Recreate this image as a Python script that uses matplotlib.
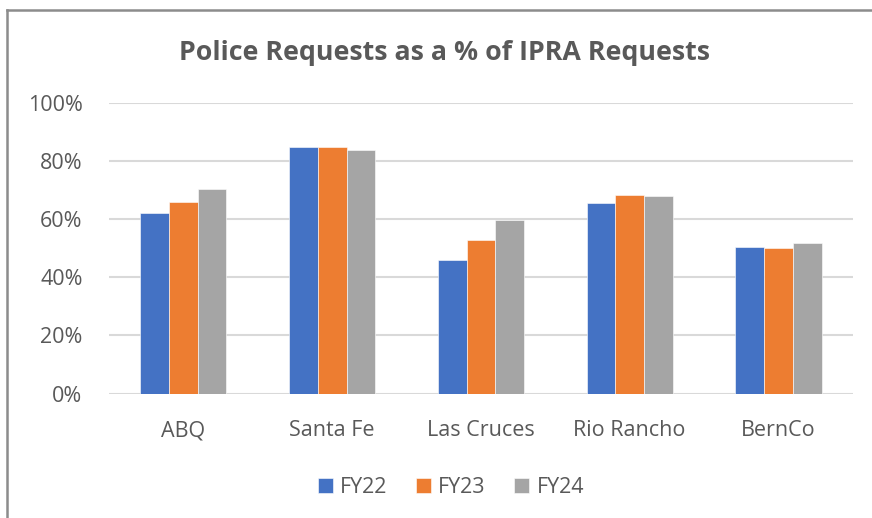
import matplotlib.pyplot as plt
import numpy as np
from matplotlib.lines import Line2D
from matplotlib.ticker import PercentFormatter

plt.rcParams['font.family'] = ['Open Sans', 'DejaVu Sans']

cities = ['ABQ', 'Santa Fe', 'Las Cruces', 'Rio Rancho', 'BernCo']
fy22 = [62.0, 84.7, 45.8, 65.4, 50.4]
fy23 = [65.8, 84.7, 52.8, 68.3, 50.1]
fy24 = [70.2, 83.7, 59.5, 67.9, 51.9]
series = ['FY22', 'FY23', 'FY24']
colors = ['#4472C4', '#ED7D31', '#A5A5A5']
text_color = '#595959'

fig = plt.figure(figsize=(8.72, 5.18), dpi=100)
ax = fig.add_axes([0.125, 0.240, 0.853, 0.562])

x = np.arange(len(cities))
w = 0.193
for i, (vals, name, c) in enumerate(zip([fy22, fy23, fy24], series, colors)):
    ax.bar(x + (i - 1) * w, vals, w, color=c, label=name, zorder=3,
           edgecolor='white', linewidth=0.4)

ax.set_xlim(-0.5, len(cities) - 0.5)
ax.set_ylim(0, 100)
ax.set_yticks(range(0, 101, 20))
ax.yaxis.set_major_formatter(PercentFormatter(decimals=0))
ax.set_xticks(x)
ax.set_xticklabels(cities)
ax.grid(axis='y', color='#D9D9D9', linewidth=1.5, zorder=0)
for s in ax.spines.values():
    s.set_visible(False)
ax.tick_params(length=0, labelsize=15.5, labelcolor=text_color)
ax.tick_params(axis='x', pad=19)
ax.tick_params(axis='y', pad=19)

fig.text(0.51, 0.898, 'Police Requests as a % of IPRA Requests', ha='center', va='center',
         fontsize=19.3, fontweight='bold', color=text_color)

fig.legend(loc='center', bbox_to_anchor=(0.517, 0.058), ncol=3, frameon=False,
           fontsize=15.5, labelcolor=text_color, handlelength=0.7, handleheight=0.7,
           handletextpad=0.35, columnspacing=1.3)

# chart area border (left and top visible)
fig.add_artist(Line2D([7 / 872, 7 / 872], [0, 1 - 10 / 518], transform=fig.transFigure,
                      color='#8C8C8C', linewidth=1.8))
fig.add_artist(Line2D([7 / 872, 1], [1 - 10 / 518, 1 - 10 / 518], transform=fig.transFigure,
                      color='#8C8C8C', linewidth=1.8))

fig.savefig('out.png', dpi=100)
